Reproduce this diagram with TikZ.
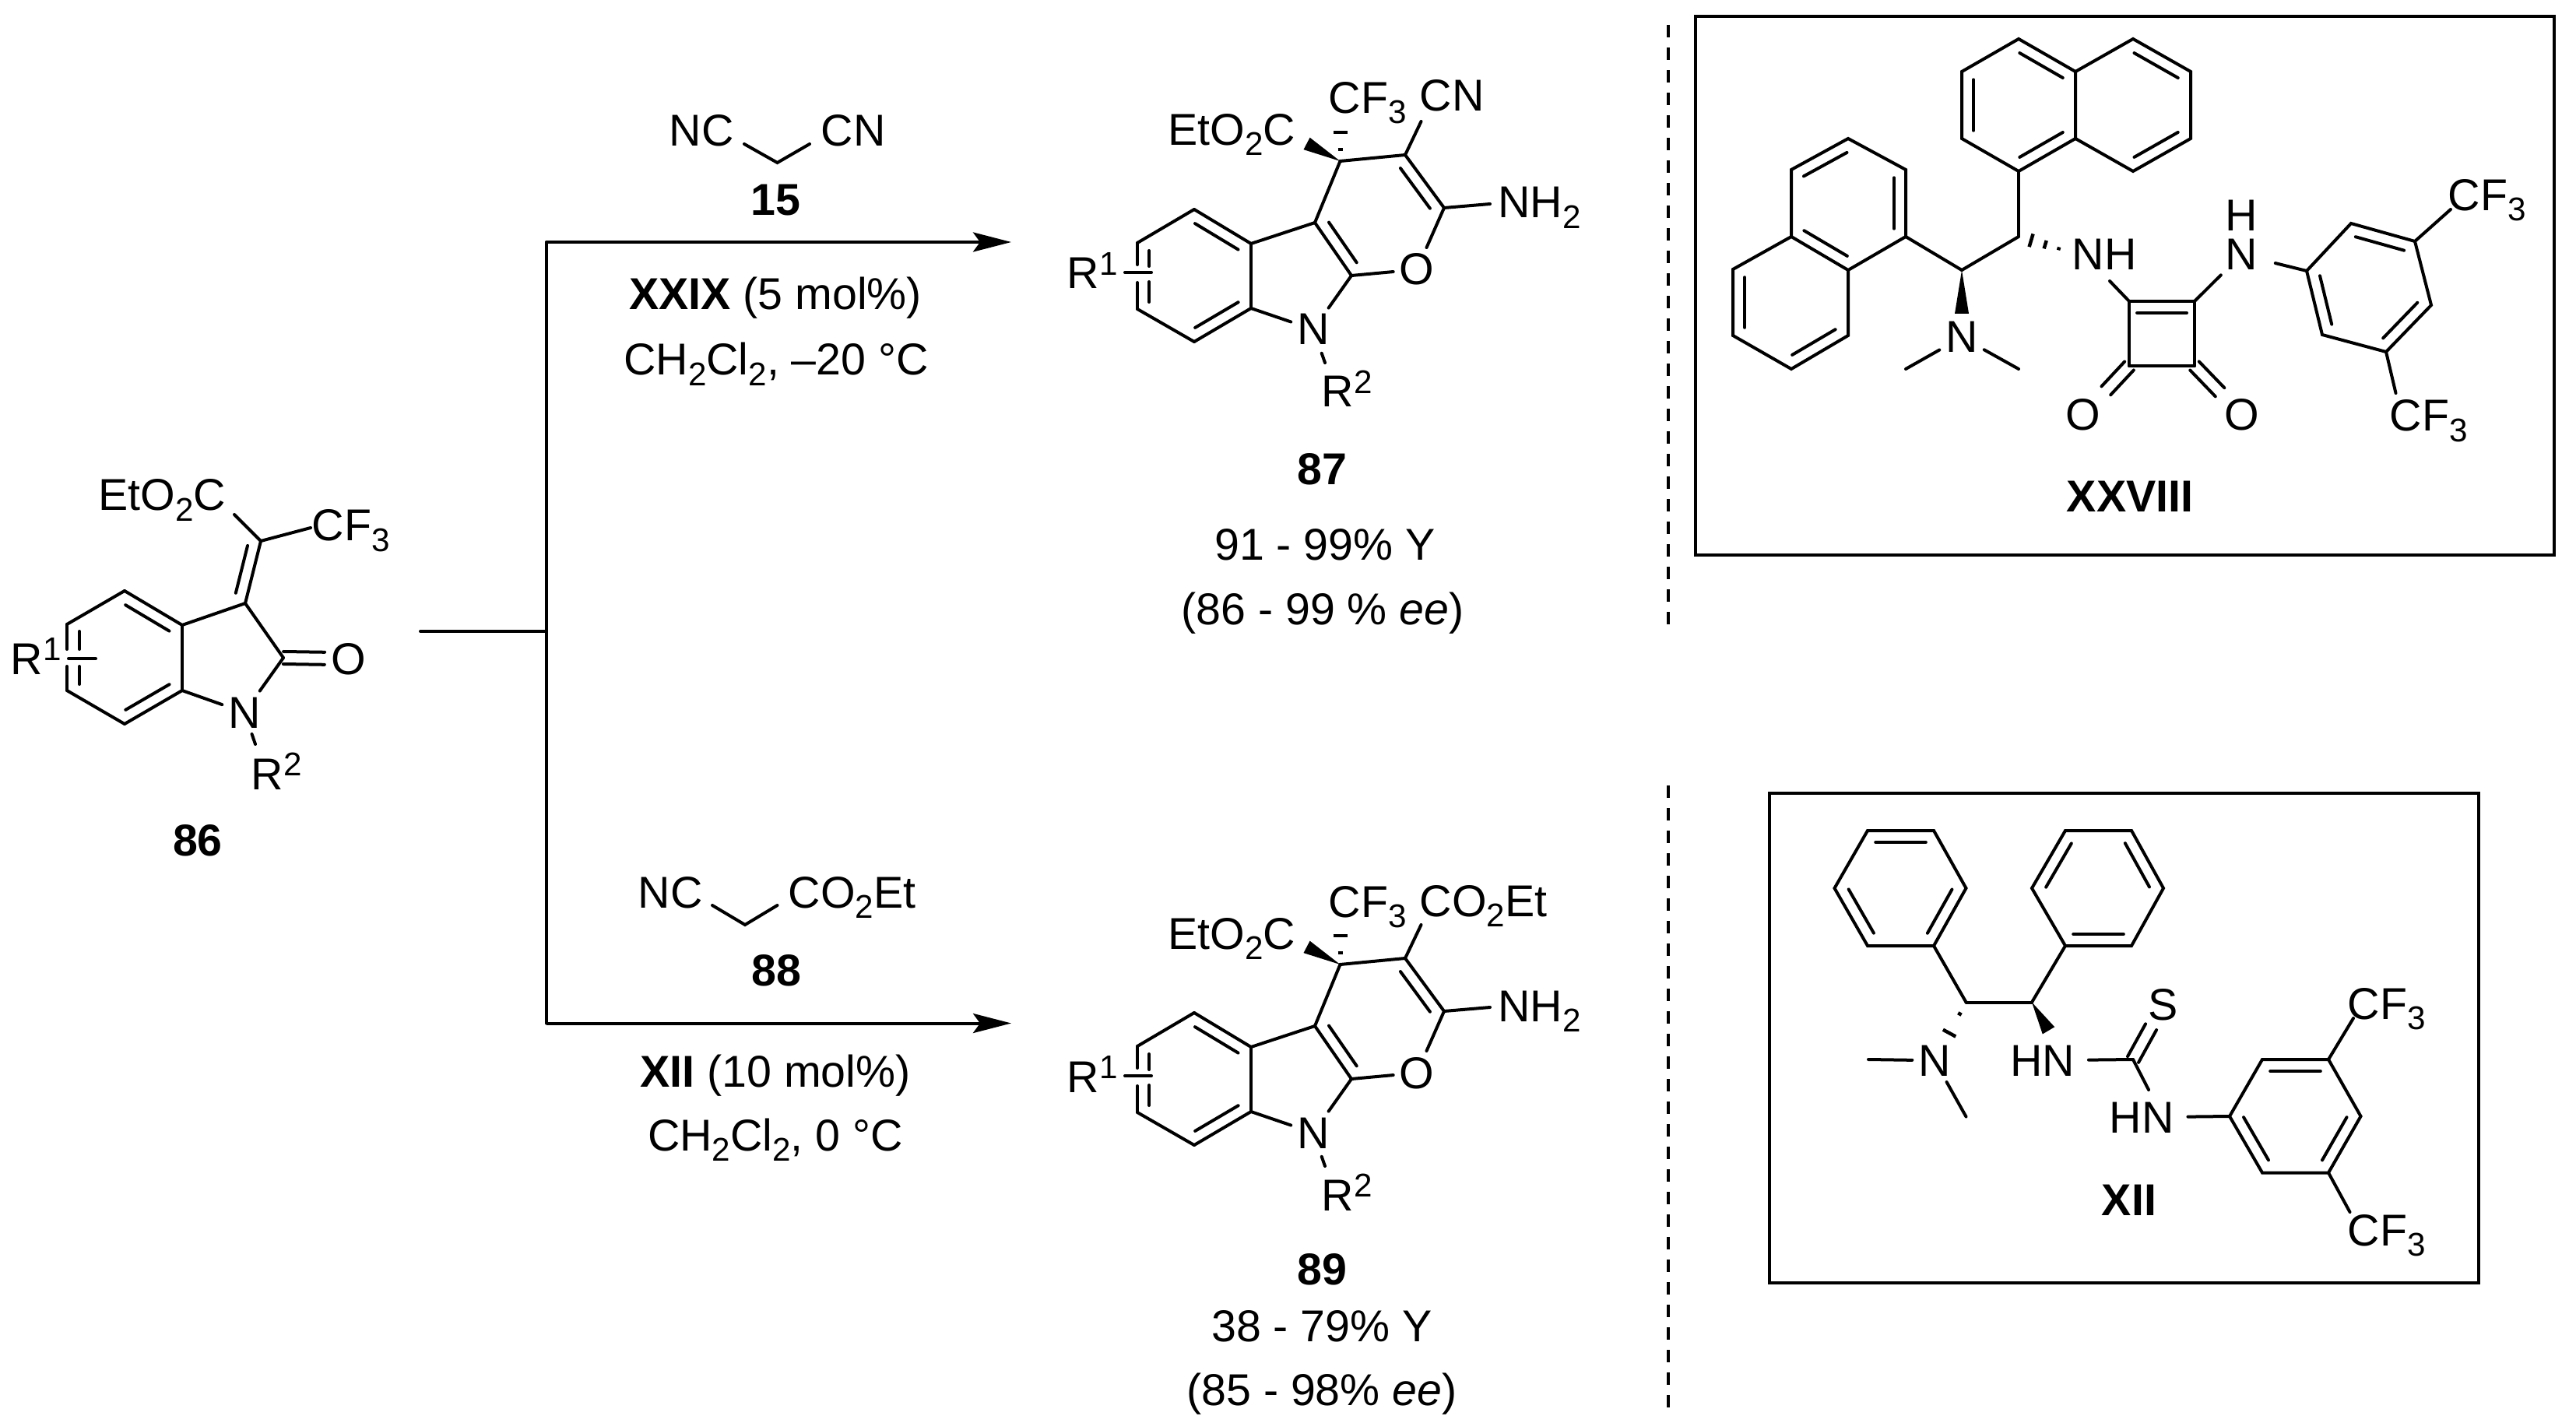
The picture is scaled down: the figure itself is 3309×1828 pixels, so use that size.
\documentclass[tikz,border=0pt]{standalone}
\usepackage{fontspec}
\setmainfont{Liberation Sans}
\usetikzlibrary{calc, arrows.meta}

\tikzset{
	every node/.style={font=\fontsize{16.3}{18}\selectfont},
	bond/.style={line width=.04cm, line cap=round},
	lbl/.style={inner sep=0, anchor=base west},
	capt/.style={inner sep=0, anchor=base},
	atom/.style={inner sep=0, outer sep=.08cm, anchor=base},
	route/.style={line width=.04cm, -{Stealth[length=.49cm, width=.25cm, inset=.09cm]}},
	frame/.style={line width=.045cm},
	sepline/.style={line width=.04cm, dash pattern=on .16cm off .13cm},
}
\newcommand{\sbs}[1]{\raisebox{-.13cm}{\fontsize{12}{12}\selectfont #1}}
\newcommand{\sps}[1]{\raisebox{.175cm}{\fontsize{12}{12}\selectfont #1}}
\newcommand{\innerbond}[2]{\draw [bond] ($(#1)!.12!(#2)!.15cm!-90:(#2)$) -- ($(#2)!.12!(#1)!.15cm!90:(#1)$);}
\newcommand{\twinbond}[3]{
	\draw [bond, shorten >=#3] ($(#1)!.08cm!90:(#2)$) -- ($(#2)!.08cm!-90:(#1)$);
	\draw [bond, shorten >=#3] ($(#1)!.08cm!-90:(#2)$) -- ($(#2)!.08cm!90:(#1)$);
}
\newcommand{\wedgebond}[4]{\fill ($(#1)$) -- ($(#1)!#3!(#2)!#4!90:(#2)$) -- ($(#1)!#3!(#2)!#4!-90:(#2)$) -- cycle;}
\newcommand{\hashbit}[4]{\draw [line width=.045cm] ($(#1)!#3!(#2)!#4!90:(#2)$) -- ($(#1)!#3!(#2)!#4!-90:(#2)$);}

\newcommand{\pyranoindole}[2]{
	\begin{scope}[shift={(0,#2)}, name prefix=#1-]
		\coordinate (c4) at (1721.5,207);
		\coordinate (c3) at (1805,199);
		\coordinate (c2) at (1855,267);
		\coordinate (c9a) at (1736,354);
		\coordinate (c4a) at (1689,286);
		\coordinate (c5a) at (1607,313);
		\coordinate (c6) at (1534,269);
		\coordinate (c7) at (1461,312);
		\coordinate (c8) at (1461,397);
		\coordinate (c9) at (1534,439);
		\coordinate (c9b) at (1607,396);
		\coordinate (gap1) at (1461,340);
		\coordinate (gap2) at (1461,363);
		\coordinate (in1) at (1476,322);
		\coordinate (in2) at (1476,342);
		\coordinate (in3) at (1476,362);
		\coordinate (in4) at (1476,388);
		\coordinate (bar1) at (1445,350);
		\coordinate (bar2) at (1479,350);
		\coordinate (rend) at (1702,466);
		\coordinate (nhend) at (1914,262);
		\coordinate (esterend) at (1665.7,177.7);
		\coordinate (cfend) at (1721.5,150);

		\node[lbl] (ester) at (1500,187) {EtO\sbs{2}C};
		\node[lbl] (cf) at (1706,146) {CF\sbs{3}};
		\node[lbl] (nh) at (1923.5,280) {NH\sbs{2}};
		\node[lbl] (r1) at (1370,371) {R\sps{1}};
		\node[lbl] (r2) at (1697,523) {R\sps{2}};
		\node[atom] (n) at (1687,443) {N};
		\node[atom] (o) at (1820,366) {O};

		\draw [bond]
			(c4) edge (c3)
			(c3) edge (c2)
			(c2) edge (o)
			(o) edge (c9a)
			(c9a) edge (c4a)
			(c4a) edge (c4)
			(c4a) edge (c5a)
			(c5a) edge (c6)
			(c6) edge (c7)
			(c7) edge (gap1)
			(gap2) edge (c8)
			(c8) edge (c9)
			(c9) edge (c9b)
			(c9b) edge (c5a)
			(c9b) edge (n)
			(c9a) edge (n)
			(n) edge[shorten <=.03cm] (rend)
			(c2) edge (nhend)
			(in1) edge (in2)
			(in3) edge (in4)
			(bar1) edge (bar2)
			;
		\innerbond{c3}{c2}
		\innerbond{c9a}{c4a}
		\innerbond{c6}{c5a}
		\innerbond{c9b}{c9}
		\wedgebond{c4}{esterend}{.77}{.087cm}
		\hashbit{c4}{cfend}{.26}{.03cm}
		\hashbit{c4}{cfend}{.65}{.09cm}
	\end{scope}
}

\begin{document}
\begin{tikzpicture}[x=.01cm, y=-.01cm]
	\useasboundingbox (0,0) rectangle (3309,1828);

	% starting material
	\coordinate (s4) at (160,759);
	\coordinate (s5) at (86,802);
	\coordinate (s6) at (86,887);
	\coordinate (s7) at (160,930);
	\coordinate (s7a) at (234,887);
	\coordinate (s3a) at (234,803);
	\coordinate (s3) at (315,775);
	\coordinate (s2) at (364,845);
	\coordinate (sx) at (335,695);
	\coordinate (sgap1) at (86,834);
	\coordinate (sgap2) at (86,856);
	\coordinate (sin1) at (102,811);
	\coordinate (sin2) at (102,834);
	\coordinate (sin3) at (102,856);
	\coordinate (sin4) at (102,879);
	\coordinate (sbar1) at (88,846);
	\coordinate (sbar2) at (123,846);
	\coordinate (srend) at (328,956);
	\coordinate (sesterend) at (301,661);
	\coordinate (scfend) at (399,678);

	\node[lbl] (sester) at (126,656) {EtO\sbs{2}C};
	\node[lbl] (scf) at (400,695) {CF\sbs{3}};
	\node[lbl] (sr1) at (13,866) {R\sps{1}};
	\node[lbl] (sr2) at (322,1014) {R\sps{2}};
	\node[atom] (sn) at (314,935) {N};
	\node[atom] (so) at (448,866) {O};
	\node[capt] (lab86) at (254,1099) {\textbf{86}};

	\draw [bond]
		(s4) edge (s5)
		(s5) edge (sgap1)
		(sgap2) edge (s6)
		(s6) edge (s7)
		(s7) edge (s7a)
		(s7a) edge (s3a)
		(s3a) edge (s4)
		(s3a) edge (s3)
		(s3) edge (s2)
		(s2) edge (sn)
		(s7a) edge (sn)
		(sn) edge (srend)
		(s3) edge (sx)
		(sx) edge (sesterend)
		(sx) edge (scfend)
		(sin1) edge (sin2)
		(sin3) edge (sin4)
		(sbar1) edge (sbar2)
		;
	\innerbond{s4}{s3a}
	\innerbond{s7a}{s7}
	\innerbond{sx}{s3}
	\twinbond{s2}{so}{.31cm}

	% reaction routes
	\coordinate (forkL) at (540,811);
	\coordinate (forkM) at (701.5,811);
	\coordinate (forkT) at (701.5,311);
	\coordinate (forkB) at (701.5,1314.5);
	\coordinate (endT) at (1299,311);
	\coordinate (endB) at (1299,1314.5);
	\draw [bond] (forkL) -- (forkM);
	\draw [bond] (forkT) -- (forkB);
	\draw [route] (forkT) -- (endT);
	\draw [route] (forkB) -- (endB);

	% upper reagent
	\coordinate (za1) at (956,185);
	\coordinate (za2) at (998.5,209);
	\coordinate (za3) at (1040,185);
	\node[lbl] (nca) at (859,188) {NC};
	\node[lbl] (cna) at (1054,188) {CN};
	\draw [bond] (za1) -- (za2) -- (za3);
	\node[capt] (lab15) at (996,277) {\textbf{15}};
	\node[capt] (cata) at (996,398) {\textbf{XXIX} (5 mol\%)};
	\node[capt] (solva) at (997,482) {CH\sbs{2}Cl\sbs{2}, –20 °C};

	% lower reagent
	\coordinate (zb1) at (915,1163);
	\coordinate (zb2) at (957,1188);
	\coordinate (zb3) at (998.5,1163);
	\node[lbl] (ncb) at (819,1166) {NC};
	\node[lbl] (cob) at (1012,1166) {CO\sbs{2}Et};
	\draw [bond] (zb1) -- (zb2) -- (zb3);
	\node[capt] (lab88) at (997,1266) {\textbf{88}};
	\node[capt] (catb) at (996,1396) {\textbf{XII} (10 mol\%)};
	\node[capt] (solvb) at (996,1478) {CH\sbs{2}Cl\sbs{2}, 0 °C};

	% products
	\pyranoindole{pa}{0}
	\coordinate (cnend) at (1825.5,156);
	\node[lbl] (cn) at (1823,143) {CN};
	\draw [bond] (pa-c3) -- (cnend);
	\node[capt] (lab87) at (1698,623) {\textbf{87}};
	\node[capt] (ya) at (1702,720) {91 - 99\% Y};
	\node[capt] (eea) at (1699,802) {(86 - 99 \% \textit{ee})};

	\pyranoindole{pb}{1032}
	\coordinate (coend) at (1825.5,1188);
	\node[lbl] (co) at (1823,1177) {CO\sbs{2}Et};
	\draw [bond] (pb-c3) -- (coend);
	\node[capt] (lab89) at (1698,1650) {\textbf{89}};
	\node[capt] (yb) at (1698,1723) {38 - 79\% Y};
	\node[capt] (eeb) at (1698,1805) {(85 - 98\% \textit{ee})};

	% dashed separators
	\coordinate (da) at (2143,32);
	\coordinate (db) at (2143,808);
	\coordinate (dc) at (2143,1009);
	\coordinate (dd) at (2143,1815);
	\draw [sepline] (da) -- (db);
	\draw [sepline] (dc) -- (dd);

	% squaramide box
	\coordinate (boxa1) at (2178,21);
	\coordinate (boxa2) at (3281,713);
	\draw [frame] (boxa1) rectangle (boxa2);

	\coordinate (a1) at (2593,50);
	\coordinate (a2) at (2666,92);
	\coordinate (a3) at (2666,178);
	\coordinate (a4) at (2593,220);
	\coordinate (a5) at (2520,178);
	\coordinate (a6) at (2520,92);
	\coordinate (a7) at (2740,50);
	\coordinate (a8) at (2814,92);
	\coordinate (a9) at (2814,178);
	\coordinate (a10) at (2740,220);
	\draw [bond] (a1) -- (a2) -- (a3) -- (a4) -- (a5) -- (a6) -- cycle;
	\draw [bond] (a2) -- (a7) -- (a8) -- (a9) -- (a10) -- (a3);
	\innerbond{a1}{a2}
	\innerbond{a5}{a6}
	\innerbond{a3}{a4}
	\innerbond{a7}{a8}
	\innerbond{a9}{a10}

	\coordinate (b1) at (2448,304);
	\coordinate (b2) at (2448,218);
	\coordinate (b3) at (2374,178);
	\coordinate (b4) at (2301,218);
	\coordinate (b5) at (2301,304);
	\coordinate (b6) at (2374,347);
	\coordinate (b7) at (2226,346);
	\coordinate (b8) at (2226,431);
	\coordinate (b9) at (2301,474);
	\coordinate (b10) at (2374,431);
	\draw [bond] (b1) -- (b2) -- (b3) -- (b4) -- (b5) -- (b6) -- cycle;
	\draw [bond] (b5) -- (b7) -- (b8) -- (b9) -- (b10) -- (b6);
	\innerbond{b2}{b1}
	\innerbond{b4}{b3}
	\innerbond{b6}{b5}
	\innerbond{b8}{b7}
	\innerbond{b10}{b9}

	\coordinate (ca) at (2593,304);
	\coordinate (cb) at (2520,347);
	\coordinate (mea) at (2448,474);
	\coordinate (meb) at (2593,474);
	\coordinate (hashend) at (2660,324);
	\coordinate (nhaend) at (2710,361);
	\node[atom] (nme) at (2520,453) {N};
	\node[lbl] (nha) at (2661,347) {NH};
	\node[capt] (nb) at (2879,347) {N};
	\node[capt] (hb) at (2879,297) {H};

	\coordinate (sq1) at (2735,387);
	\coordinate (sq2) at (2819,387);
	\coordinate (sq3) at (2819,470);
	\coordinate (sq4) at (2735,470);
	\node[atom] (oa) at (2676,553) {O};
	\node[atom] (ob) at (2880,553) {O};

	\coordinate (r1) at (2963,348);
	\coordinate (r2) at (3020,287);
	\coordinate (r3) at (3102,310);
	\coordinate (r4) at (3123,392);
	\coordinate (r5) at (3065,452);
	\coordinate (r6) at (2983,430);
	\coordinate (cfaend) at (3148,269);
	\coordinate (cfbend) at (3077.5,505);
	\node[lbl] (cfa) at (3144,271) {CF\sbs{3}};
	\node[lbl] (cfb) at (3069,554) {CF\sbs{3}};
	\node[capt] (labxxviii) at (2736,658) {\textbf{XXVIII}};

	\draw [bond]
		(a4) edge (ca)
		(ca) edge (cb)
		(cb) edge (b1)
		(nme) edge (mea)
		(nme) edge (meb)
		(nhaend) edge (sq1)
		(sq2) edge[shorten >=.08cm] (nb)
		(r1) edge[shorten >=.23cm] (nb)
		(sq1) edge (sq2)
		(sq2) edge (sq3)
		(sq3) edge (sq4)
		(sq4) edge (sq1)
		(r3) edge (cfaend)
		(r5) edge (cfbend)
		;
	\draw [bond] (r1) -- (r2) -- (r3) -- (r4) -- (r5) -- (r6) -- cycle;
	\innerbond{sq1}{sq2}
	\innerbond{r2}{r3}
	\innerbond{r4}{r5}
	\innerbond{r6}{r1}
	\twinbond{sq4}{oa}{.43cm}
	\twinbond{sq3}{ob}{.41cm}
	\wedgebond{cb}{nme}{.647}{.09cm}
	\hashbit{ca}{hashend}{.24}{.087cm}
	\hashbit{ca}{hashend}{.51}{.054cm}
	\hashbit{ca}{hashend}{.77}{.02cm}

	% thiourea box
	\coordinate (boxb1) at (2273,1019);
	\coordinate (boxb2) at (3184,1648);
	\draw [frame] (boxb1) rectangle (boxb2);

	\coordinate (p1) at (2399,1067);
	\coordinate (p2) at (2484,1067);
	\coordinate (p3) at (2525.5,1141);
	\coordinate (p4) at (2484,1215);
	\coordinate (p5) at (2399,1215);
	\coordinate (p6) at (2356.5,1141);
	\draw [bond] (p1) -- (p2) -- (p3) -- (p4) -- (p5) -- (p6) -- cycle;
	\innerbond{p1}{p2}
	\innerbond{p3}{p4}
	\innerbond{p5}{p6}

	\coordinate (q1) at (2653,1067);
	\coordinate (q2) at (2738,1067);
	\coordinate (q3) at (2779,1141);
	\coordinate (q4) at (2738,1215);
	\coordinate (q5) at (2653,1215);
	\coordinate (q6) at (2610,1141);
	\draw [bond] (q1) -- (q2) -- (q3) -- (q4) -- (q5) -- (q6) -- cycle;
	\innerbond{q6}{q1}
	\innerbond{q2}{q3}
	\innerbond{q4}{q5}

	\coordinate (ta) at (2525.5,1287.5);
	\coordinate (tb) at (2610,1287.5);
	\coordinate (tu) at (2740,1361);
	\coordinate (mec) at (2400,1361);
	\coordinate (med) at (2525.5,1434.5);
	\coordinate (wedgeend) at (2640.7,1339.4);
	\coordinate (tuend) at (2760,1400);
	\node[atom] (nmf) at (2485,1382) {N};
	\node[atom] (hna) at (2623.5,1382) {HN};
	\node[atom] (hnb) at (2751,1455) {HN};
	\node[atom] (st) at (2779,1310) {S};

	\coordinate (t1) at (2864,1434);
	\coordinate (t2) at (2906,1361);
	\coordinate (t3) at (2991,1361);
	\coordinate (t4) at (3032.5,1434);
	\coordinate (t5) at (2991,1506.5);
	\coordinate (t6) at (2906,1506.5);
	\coordinate (cfcend) at (3023,1308);
	\coordinate (cfdend) at (3018.5,1557);
	\node[lbl] (cfc) at (3015,1309) {CF\sbs{3}};
	\node[lbl] (cfd) at (3015,1600.5) {CF\sbs{3}};
	\node[capt] (labxii) at (2735,1561.5) {\textbf{XII}};

	\draw [bond]
		(p4) edge (ta)
		(q5) edge (tb)
		(ta) edge (tb)
		(nmf) edge (mec)
		(nmf) edge (med)
		(tu) edge[shorten >=.1cm] (hna)
		(tu) edge (tuend)
		(t1) edge[shorten >=.1cm] (hnb)
		(t3) edge (cfcend)
		(t5) edge (cfdend)
		;
	\draw [bond] (t1) -- (t2) -- (t3) -- (t4) -- (t5) -- (t6) -- cycle;
	\innerbond{t2}{t3}
	\innerbond{t4}{t5}
	\innerbond{t6}{t1}
	\twinbond{tu}{st}{.33cm}
	\wedgebond{tb}{wedgeend}{.7}{.09cm}
	\hashbit{ta}{nmf}{.2}{.025cm}
	\hashbit{ta}{nmf}{.53}{.093cm}
\end{tikzpicture}
\end{document}
